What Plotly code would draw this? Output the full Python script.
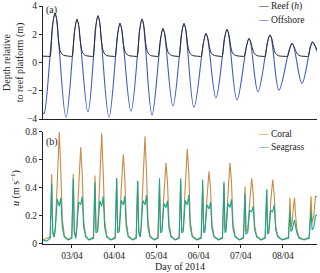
import plotly.graph_objects as go

# ---------------- data (day of April 2014, decimal) ----------------
offshore_t = [2.313, 2.340, 2.597, 2.858, 3.118, 3.379, 3.616, 3.877, 4.137, 4.398, 4.659,
              4.896, 5.156, 5.393, 5.654, 5.891, 6.175, 6.412, 6.673, 6.910, 7.194,
              7.408, 7.692, 7.905, 8.213, 8.450, 8.700, 8.806]
offshore_v = [-3.57, -3.60, 3.49, -3.87, 3.06, -3.50, 3.31, -3.87, 2.77, -3.45, 3.08,
              -3.70, 2.41, -3.08, 2.76, -3.17, 2.05, -2.50, 2.34, -2.65, 1.70,
              -2.07, 1.95, -1.95, 1.35, -1.47, 1.45, 0.80]

reef_t = [2.313, 2.462, 2.482, 2.537, 2.597, 2.642, 2.682, 2.727, 2.797,
          2.983, 3.003, 3.058, 3.118, 3.163, 3.203, 3.248, 3.318,
          3.481, 3.501, 3.556, 3.616, 3.661, 3.701, 3.746, 3.816,
          4.002, 4.022, 4.077, 4.137, 4.182, 4.222, 4.267, 4.337,
          4.524, 4.544, 4.599, 4.659, 4.704, 4.744, 4.789, 4.859,
          5.021, 5.041, 5.096, 5.156, 5.201, 5.241, 5.286, 5.356,
          5.519, 5.539, 5.594, 5.654, 5.699, 5.739, 5.784, 5.854,
          6.040, 6.060, 6.115, 6.175, 6.220, 6.260, 6.305, 6.375,
          6.538, 6.558, 6.613, 6.673, 6.718, 6.758, 6.803, 6.873,
          7.059, 7.079, 7.134, 7.194, 7.239, 7.279, 7.324, 7.394,
          7.557, 7.577, 7.632, 7.692, 7.737, 7.777, 7.822, 7.892,
          8.088, 8.108, 8.158, 8.213, 8.258, 8.298, 8.343, 8.413,
          8.575, 8.595, 8.645, 8.700, 8.745, 8.806]
reef_v = [0.45, 0.43, 0.42, 2.60, 3.49, 3.00, 1.50, 0.75, 0.52,
          0.43, 0.42, 2.20, 3.06, 2.58, 1.35, 0.72, 0.50,
          0.43, 0.42, 2.45, 3.31, 2.79, 1.45, 0.75, 0.50,
          0.43, 0.42, 1.94, 2.77, 2.32, 1.25, 0.70, 0.50,
          0.43, 0.42, 2.26, 3.08, 2.59, 1.40, 0.75, 0.50,
          0.43, 0.42, 1.65, 2.41, 2.01, 1.15, 0.68, 0.50,
          0.43, 0.42, 2.03, 2.76, 2.33, 1.30, 0.72, 0.50,
          0.43, 0.42, 1.40, 2.05, 1.72, 1.05, 0.65, 0.50,
          0.43, 0.42, 1.74, 2.34, 1.99, 1.20, 0.68, 0.50,
          0.43, 0.42, 1.16, 1.70, 1.44, 0.95, 0.62, 0.48,
          0.43, 0.42, 1.45, 1.95, 1.67, 1.05, 0.65, 0.48,
          0.43, 0.42, 0.94, 1.35, 1.15, 0.85, 0.60, 0.47,
          0.43, 0.42, 1.09, 1.45, 1.25, 0.90]

vel_t = [2.313, 2.400,
         2.483, 2.519, 2.543, 2.578, 2.604, 2.652, 2.699, 2.735, 2.770, 2.818, 2.905,
         2.995, 3.031, 3.054, 3.090, 3.111, 3.159, 3.206, 3.242, 3.277, 3.325, 3.400,
         3.510, 3.545, 3.569, 3.609, 3.657, 3.704, 3.739, 3.775, 3.822, 3.920,
         4.024, 4.059, 4.083, 4.121, 4.168, 4.216, 4.251, 4.287, 4.334, 4.440,
         4.521, 4.557, 4.581, 4.616, 4.635, 4.682, 4.730, 4.765, 4.801, 4.848, 4.950,
         5.038, 5.074, 5.097, 5.133, 5.180, 5.228, 5.263, 5.299, 5.346, 5.450,
         5.540, 5.576, 5.600, 5.637, 5.685, 5.732, 5.768, 5.803, 5.851, 5.960,
         6.062, 6.097, 6.121, 6.152, 6.199, 6.247, 6.282, 6.318, 6.365, 6.470,
         6.566, 6.602, 6.626, 6.650, 6.697, 6.744, 6.780, 6.815, 6.863, 6.970,
         7.064, 7.100, 7.123, 7.164, 7.211, 7.258, 7.294, 7.329, 7.377, 7.480,
         7.578, 7.614, 7.637, 7.665, 7.709, 7.756, 7.792, 7.827, 7.875, 7.980,
         8.130, 8.166, 8.190, 8.215, 8.250, 8.273, 8.300, 8.330, 8.380, 8.500,
         8.620, 8.664, 8.690, 8.730, 8.770, 8.806]
coral_v = [0.03, 0.04,
           0.05, 0.50, 0.10, 0.05, 0.12, 0.45, 0.80, 0.52, 0.18, 0.06, 0.03,
           0.05, 0.50, 0.10, 0.05, 0.12, 0.42, 0.69, 0.50, 0.16, 0.06, 0.03,
           0.05, 0.49, 0.10, 0.10, 0.45, 0.79, 0.52, 0.17, 0.06, 0.03,
           0.05, 0.47, 0.10, 0.11, 0.40, 0.64, 0.48, 0.16, 0.06, 0.03,
           0.05, 0.45, 0.10, 0.05, 0.12, 0.45, 0.77, 0.52, 0.17, 0.06, 0.03,
           0.05, 0.42, 0.10, 0.11, 0.36, 0.58, 0.44, 0.15, 0.06, 0.03,
           0.05, 0.45, 0.10, 0.11, 0.42, 0.68, 0.50, 0.16, 0.06, 0.03,
           0.05, 0.42, 0.10, 0.11, 0.33, 0.52, 0.40, 0.14, 0.06, 0.03,
           0.05, 0.43, 0.10, 0.11, 0.36, 0.58, 0.44, 0.15, 0.06, 0.03,
           0.05, 0.41, 0.09, 0.10, 0.30, 0.47, 0.36, 0.13, 0.06, 0.03,
           0.05, 0.39, 0.09, 0.10, 0.30, 0.46, 0.35, 0.13, 0.06, 0.03,
           0.05, 0.33, 0.12, 0.15, 0.27, 0.33, 0.20, 0.10, 0.05, 0.03,
           0.05, 0.34, 0.15, 0.20, 0.34, 0.34]
seagrass_v = [0.03, 0.02,
              0.04, 0.43, 0.08, 0.05, 0.10, 0.32, 0.27, 0.33, 0.12, 0.05, 0.03,
              0.04, 0.47, 0.08, 0.04, 0.10, 0.30, 0.28, 0.34, 0.12, 0.05, 0.03,
              0.04, 0.44, 0.08, 0.09, 0.31, 0.27, 0.34, 0.12, 0.05, 0.03,
              0.04, 0.47, 0.08, 0.09, 0.31, 0.28, 0.34, 0.12, 0.05, 0.03,
              0.04, 0.45, 0.08, 0.05, 0.10, 0.31, 0.28, 0.35, 0.12, 0.05, 0.03,
              0.04, 0.47, 0.08, 0.09, 0.29, 0.26, 0.31, 0.11, 0.05, 0.03,
              0.04, 0.47, 0.08, 0.09, 0.31, 0.28, 0.35, 0.12, 0.05, 0.03,
              0.04, 0.46, 0.08, 0.09, 0.28, 0.25, 0.30, 0.11, 0.05, 0.03,
              0.04, 0.445, 0.08, 0.09, 0.29, 0.26, 0.32, 0.11, 0.05, 0.03,
              0.04, 0.36, 0.07, 0.08, 0.24, 0.23, 0.27, 0.10, 0.05, 0.03,
              0.04, 0.39, 0.07, 0.08, 0.24, 0.23, 0.28, 0.10, 0.05, 0.03,
              0.04, 0.24, 0.09, 0.10, 0.15, 0.17, 0.12, 0.08, 0.04, 0.03,
              0.04, 0.24, 0.10, 0.12, 0.20, 0.21]

tick_days = [3, 4, 5, 6, 7, 8]
tick_labels = ["03/04", "04/04", "05/04", "06/04", "07/04", "08/04"]
depth_ticks = [-4, -2, 0, 2, 4]
depth_labels = ["\u22124", "\u22122", "0", "2", "4"]
vel_ticks = [0, 0.2, 0.4, 0.6, 0.8]
vel_labels = ["0", "0.2", "0.4", "0.6", "0.8"]

# ---------------- figure ----------------
FONT = "Liberation Serif"
C_REEF = "#262626"
C_OFF = "#3a5bc4"
C_CORAL = "#c98a43"
C_SEA = "#17a58e"

fig = go.Figure()
fig.add_trace(go.Scatter(x=offshore_t, y=offshore_v, mode="lines", name="Offshore",
                         line=dict(color=C_OFF, width=1.1, shape="spline", smoothing=1.0),
                         xaxis="x", yaxis="y", showlegend=False))
fig.add_trace(go.Scatter(x=reef_t, y=reef_v, mode="lines", name="Reef (h)",
                         line=dict(color=C_REEF, width=1.0, shape="spline", smoothing=0.7),
                         xaxis="x", yaxis="y", showlegend=False))
fig.add_trace(go.Scatter(x=vel_t, y=coral_v, mode="lines", name="Coral",
                         line=dict(color=C_CORAL, width=1.1),
                         xaxis="x2", yaxis="y2", showlegend=False))
fig.add_trace(go.Scatter(x=vel_t, y=seagrass_v, mode="lines", name="Seagrass",
                         line=dict(color=C_SEA, width=1.1),
                         xaxis="x2", yaxis="y2", showlegend=False))

xr = [offshore_t[0], offshore_t[-1]]
axis_common = dict(showgrid=False, zeroline=False, showline=True, linecolor="#222",
                   linewidth=1, tickcolor="#222", tickwidth=1, automargin=False,
                   tickfont=dict(family=FONT, size=9.5, color="#222"))

fig.update_layout(
    width=320, height=273,
    margin=dict(l=43, r=3, t=6, b=29, autoexpand=False),
    paper_bgcolor="white", plot_bgcolor="white",
    font=dict(family=FONT, size=10, color="#222"),
    xaxis=dict(domain=[0, 1], range=xr, anchor="y", showticklabels=False, ticks="",
               tickvals=tick_days, **axis_common),
    yaxis=dict(domain=[0.525, 1.0], range=[-4, 4], anchor="x", ticks="outside", ticklen=3,
               tickvals=depth_ticks, ticktext=depth_labels,
               title=dict(text="Depth relative<br>to reef platform (m)",
                          font=dict(family=FONT, size=10), standoff=1),
               **axis_common),
    xaxis2=dict(domain=[0, 1], range=xr, anchor="y2", ticks="outside", ticklen=3,
                tickvals=tick_days, ticktext=tick_labels,
                title=dict(text="Day of 2014", font=dict(family=FONT, size=10), standoff=1),
                **axis_common),
    yaxis2=dict(domain=[0, 0.4706], range=[0, 0.8], anchor="x2", ticks="outside", ticklen=3,
                tickvals=vel_ticks, ticktext=vel_labels,
                title=dict(text="<i>u</i> (m s<sup>\u22121</sup>)",
                           font=dict(family=FONT, size=10), standoff=3),
                **axis_common),
)

def legend_item(x, y, color, label):
    fig.add_annotation(x=x, y=y, xref="paper", yref="paper", xanchor="left", yanchor="middle",
                       showarrow=False, align="left",
                       text=f'<span style="color:{color}">\u2014</span> {label}',
                       font=dict(family=FONT, size=9.5, color="#222"))

legend_item(0.778, 0.996, C_REEF, "Reef (<i>h</i>)")
legend_item(0.778, 0.941, C_OFF, "Offshore")
legend_item(0.778, 0.462, C_CORAL, "Coral")
legend_item(0.778, 0.408, C_SEA, "Seagrass")

for txt, yy in (("(a)", 0.985), ("(b)", 0.43)):
    fig.add_annotation(x=0.004, y=yy, xref="paper", yref="paper", xanchor="left", yanchor="middle",
                       showarrow=False, text=txt, font=dict(family=FONT, size=10, color="#222"))

fig.write_html("out.html", config={"displayModeBar": False},
               post_script="document.body.style.margin='0';document.body.style.overflow='hidden';")
